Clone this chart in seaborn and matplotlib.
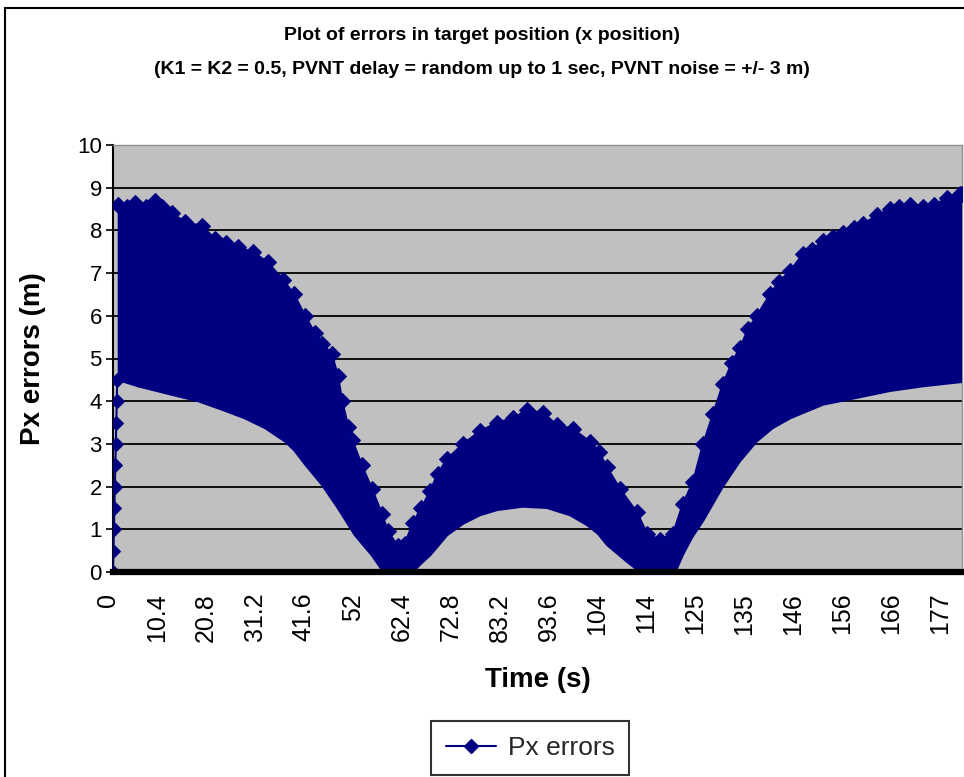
import numpy as np
import pandas as pd
import matplotlib
matplotlib.use("Agg")
import matplotlib.pyplot as plt
import matplotlib.transforms as mtransforms
from matplotlib.lines import Line2D
import seaborn as sns

# ---- data ----
# start-up ramp of the error (first samples, 0.1 s apart)
ramp_t = [0.0, 0.1, 0.2, 0.3, 0.4, 0.5, 0.6, 0.7, 0.8, 0.9]
ramp_v = [0.0, 0.5, 1.0, 1.5, 2.0, 2.5, 3.0, 3.5, 4.0, 4.5]

# upper envelope of the saw-tooth error band (time s, error m)
upper_t = [1.0, 3.0, 4.7, 7.0, 8.9, 10.5, 12.5, 15.3, 18.9, 21.7, 24.0, 26.6,
           29.7, 32.9, 36.1, 38.5, 40.8, 42.9, 44.5, 46.5, 47.8, 48.7, 50.0,
           50.8, 52.9, 55.0, 57.2, 58.4, 60.6, 62.0, 63.7, 65.5, 67.4, 69.0,
           71.0, 74.4, 78.0, 81.6, 85.0, 88.0, 91.4, 94.3, 97.7, 101.4, 103.3,
           105.0, 107.7, 111.3, 113.5, 116.2, 119.0, 121.1, 123.2, 125.4,
           127.5, 129.6, 131.5, 133.2, 135.0, 136.8, 139.6, 141.5, 143.9,
           146.6, 148.5, 150.9, 153.0, 155.1, 157.5, 159.4, 162.3, 165.1,
           167.0, 169.4, 172.1, 174.5, 177.2, 180.0, 180.4]
upper_v = [8.6, 8.55, 8.63, 8.55, 8.7, 8.55, 8.4, 8.2, 8.1, 7.8, 7.7, 7.6,
           7.5, 7.25, 6.85, 6.5, 6.0, 5.6, 5.35, 5.1, 4.6, 4.0, 3.4,
           3.1, 2.5, 1.95, 1.35, 0.95, 0.6, 0.65, 1.15, 1.5, 1.9, 2.3,
           2.65, 3.0, 3.3, 3.5, 3.6, 3.8, 3.72, 3.45, 3.35, 3.05, 2.8,
           2.45, 1.95, 1.4, 0.9, 0.75, 0.9, 1.6, 2.1, 3.0,
           3.7, 4.4, 4.9, 5.25, 5.7, 6.0, 6.5, 6.8, 7.05,
           7.45, 7.55, 7.75, 7.85, 7.95, 8.05, 8.15, 8.35, 8.5,
           8.55, 8.6, 8.55, 8.6, 8.75, 8.85, 8.85]

# lower envelope of the error band (time s, error m)
lower_t = [1.0, 5.3, 12.5, 18.1, 23.2, 28.0, 32.3, 36.5, 38.5, 40.8, 44.4,
           47.8, 51.4, 55.0, 57.2, 58.4, 63.7, 65.5, 67.4, 71.0, 74.4, 78.0,
           81.6, 87.0, 92.2, 97.1, 100.7, 103.0, 105.0, 109.2, 112.0, 119.5,
           121.1, 123.0, 125.4, 127.5, 129.6, 133.2, 136.8, 140.2, 143.9,
           150.9, 158.1, 165.1, 172.1, 180.4]
lower_v = [4.5, 4.35, 4.15, 4.0, 3.8, 3.6, 3.37, 3.06, 2.85, 2.52, 2.04,
           1.49, 0.86, 0.39, 0.04, 0.0, 0.0, 0.2, 0.39, 0.86, 1.13, 1.33,
           1.45, 1.53, 1.5, 1.33, 1.1, 0.9, 0.63, 0.24, 0.0, 0.0,
           0.4, 0.8, 1.2, 1.6, 2.0, 2.59, 3.06, 3.37, 3.6,
           3.92, 4.08, 4.24, 4.35, 4.45]

tick_pos = [0, 10.4, 20.8, 31.2, 41.6, 52, 62.4, 72.8, 83.2, 93.6, 104,
            114.4, 124.8, 135.2, 145.6, 156, 166.4, 176.8]
tick_labels = ["0", "10.4", "20.8", "31.2", "41.6", "52", "62.4", "72.8",
               "83.2", "93.6", "104", "114", "125", "135", "146", "156",
               "166", "177"]
y_ticks = [0, 1, 2, 3, 4, 5, 6, 7, 8, 9, 10]

# ---- styling ----
sns.set_theme(style="white")
plt.rcParams['font.family'] = ['Liberation Sans', 'DejaVu Sans']
navy = '#000080'

W, H = 964, 777
fig = plt.figure(figsize=(W / 100, H / 100), dpi=100)
fig.patch.set_facecolor('white')

# outer chart border (left and top edges visible in reference)
fig.add_artist(Line2D([5 / W, 5 / W], [0, 1 - 8 / H], color='black', lw=1.5))
fig.add_artist(Line2D([5 / W, 1], [1 - 8 / H, 1 - 8 / H], color='black', lw=1.5))

left, right, top, bottom = 113, 962, 145, 572
ax = fig.add_axes([left / W, 1 - bottom / H, (right - left) / W, (bottom - top) / H])
ax.set_facecolor('#C0C0C0')

# horizontal gridlines
for g in y_ticks[1:-1]:
    ax.axhline(g, color='black', lw=1.3, zorder=1)

# band of errors
poly_x = upper_t + lower_t[::-1]
poly_y = upper_v + lower_v[::-1]
ax.fill(poly_x, poly_y, color=navy, lw=0, zorder=3)
sns.lineplot(x=upper_t, y=upper_v, ax=ax, color=navy, marker='D', markersize=8,
             markeredgecolor=navy, lw=1.5, sort=False, estimator=None, zorder=4,
             legend=False)
sns.lineplot(x=lower_t, y=lower_v, ax=ax, color=navy, lw=1.5, sort=False,
             estimator=None, zorder=4, legend=False)
sns.lineplot(x=ramp_t, y=ramp_v, ax=ax, color=navy, marker='D', markersize=7,
             markeredgecolor=navy, lw=1.5, sort=False, estimator=None, zorder=4,
             legend=False)

ax.set_xlim(0, 180.4)
ax.set_ylim(0, 10)
ax.set_yticks(y_ticks)
ax.set_yticklabels([str(v) for v in y_ticks])
ax.set_xticks(tick_pos)
ax.set_xticklabels(tick_labels, rotation=90)
ax.grid(False)

ax.spines['top'].set_color('#909090')
ax.spines['top'].set_linewidth(1.0)
ax.spines['right'].set_color('#909090')
ax.spines['right'].set_linewidth(1.0)
ax.spines['left'].set_color('black')
ax.spines['left'].set_linewidth(1.5)
ax.spines['bottom'].set_color('black')
ax.spines['bottom'].set_linewidth(4.5)
ax.spines['bottom'].set_zorder(6)

ax.tick_params(axis='y', length=5, width=1.2, color='black', direction='out',
               pad=3, labelsize=16, labelcolor='black', left=True)
ax.tick_params(axis='x', length=0, pad=15, labelsize=18, labelcolor='black')

shift = mtransforms.ScaledTranslation(-5 / 100, 0, fig.dpi_scale_trans)
for lbl in ax.get_xticklabels():
    lbl.set_transform(lbl.get_transform() + shift)

ax.set_xlabel("Time (s)", fontsize=20, fontweight='bold', color='black', labelpad=18)
ax.set_ylabel("Px errors (m)", fontsize=20, fontweight='bold', color='black', labelpad=22)

fig.text(482 / W, 1 - 35 / H, "Plot of errors in target position (x position)",
         ha='center', va='center', fontsize=14, fontweight='bold', color='black')
fig.text(482 / W, 1 - 69 / H,
         "(K1 = K2 = 0.5, PVNT delay = random up to 1 sec, PVNT noise = +/- 3 m)",
         ha='center', va='center', fontsize=14, fontweight='bold', color='black')

handle = Line2D([], [], color=navy, lw=1.5, marker='D', markersize=7,
                markeredgecolor=navy)
leg = fig.legend([handle], ["Px errors"], loc='center',
                 bbox_to_anchor=(530 / W, 1 - 748 / H), fontsize=19,
                 frameon=True, fancybox=False, edgecolor='black',
                 handlelength=1.9, borderpad=0.55, handletextpad=0.45,
                 borderaxespad=0)
leg.get_frame().set_linewidth(1.5)

fig.savefig("out.png", dpi=100, facecolor='white')
